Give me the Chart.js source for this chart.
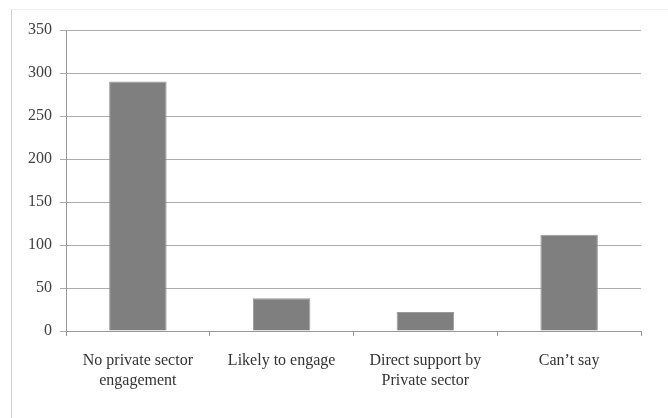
<!DOCTYPE html>
<html>
<head>
<meta charset="utf-8">
<script src="https://cdn.jsdelivr.net/npm/chart.js@4/dist/chart.umd.min.js"></script>
<style>
  html, body { margin: 0; padding: 0; background: #fff; }
  #wrap { position: relative; width: 668px; height: 418px; }
  #frame { position: absolute; left: 11px; top: 9px; right: -2px; bottom: -2px;
           border-left: 1px solid #cfcfcf; border-top: 1px solid #eeeeee; }
  canvas { position: absolute; left: 0; top: 0; }
</style>
</head>
<body>
<div id="wrap">
  <div id="frame"></div>
  <canvas id="responseChart" width="668" height="418"></canvas>
</div>
<script>
const categories = [
    ['No private sector', 'engagement'],
    'Likely to engage',
    ['Direct support by', 'Private sector'],
    'Can\u2019t say'
];
const responses = [290, 38, 22, 112];
const yTicks = [0, 50, 100, 150, 200, 250, 300, 350];

const serif = "'Liberation Serif', 'DejaVu Serif', serif";

new Chart(document.getElementById('responseChart'), {
    type: 'bar',
    data: {
        labels: categories,
        datasets: [{
            data: responses,
            backgroundColor: '#7f7f7f',
            borderColor: '#9a9a9a',
            borderWidth: 1,
            categoryPercentage: 1,
            barPercentage: 0.4
        }]
    },
    options: {
        responsive: false,
        animation: false,
        layout: { padding: { top: 30, right: 27, left: 0, bottom: 0 } },
        plugins: {
            legend: { display: false },
            tooltip: { enabled: false }
        },
        scales: {
            x: {
                afterFit: (scale) => { scale.height = 87; },
                grid: {
                    offset: true,
                    drawOnChartArea: false,
                    drawTicks: true,
                    tickLength: 5,
                    color: '#999999'
                },
                border: { color: '#999999', width: 1 },
                ticks: {
                    padding: 15,
                    color: '#333333',
                    maxRotation: 0,
                    font: { family: serif, size: 16, lineHeight: 1.25 }
                }
            },
            y: {
                min: 0,
                max: 350,
                afterFit: (scale) => { scale.width = 66; },
                afterBuildTicks: (scale) => {
                    scale.ticks = yTicks.map(v => ({ value: v }));
                },
                grid: {
                    color: '#acacac',
                    lineWidth: 1,
                    tickLength: 6
                },
                border: { color: '#999999', width: 1 },
                ticks: {
                    padding: 8,
                    color: '#404040',
                    font: { family: serif, size: 16 }
                }
            }
        }
    }
});
</script>
</body>
</html>
